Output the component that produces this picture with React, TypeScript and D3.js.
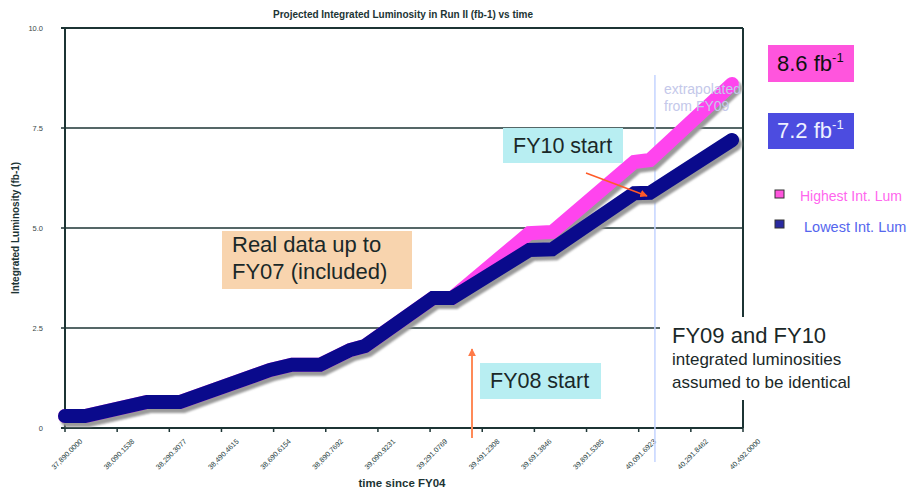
import React from "react";
import * as d3 from "d3";

// ---- data (Excel serial dates vs integrated luminosity, fb-1) ----
const dates = [37890, 37967, 38205, 38331, 38677, 38761, 38869, 38984, 39041, 39302, 39375, 39672, 39760, 40075, 40135, 40450];
const lowestLum = [0.30, 0.30, 0.65, 0.65, 1.45, 1.58, 1.58, 1.95, 2.05, 3.25, 3.25, 4.45, 4.47, 5.87, 5.88, 7.2];
const highestLum = [0.30, 0.30, 0.65, 0.65, 1.45, 1.58, 1.58, 1.95, 2.05, 3.25, 3.25, 4.87, 4.9, 6.65, 6.7, 8.6];

const xTicks = [37890.0, 38090.1538, 38290.3077, 38490.4615, 38690.6154, 38890.7692, 39090.9231, 39291.0769, 39491.2308, 39691.3846, 39891.5385, 40091.6923, 40291.8462, 40492.0];
const yTicks = [0, 2.5, 5, 7.5, 10];
const yTickLabels = ["0", "2.5", "5.0", "7.5", "10.0"];

const seriesNames = ["Highest Int. Lum", "Lowest Int. Lum"];
const totals = ["8.6", "7.2"];

const FY08_DATE = 39452;
const FY10_DATE = 40154;

const FONT = "'Liberation Sans', Arial, Helvetica, sans-serif";

export default function App() {
  const W = 912, H = 491;
  const x = d3.scaleLinear().domain([37890, 40492]).range([65, 743]);
  const y = d3.scaleLinear().domain([0, 10]).range([428, 28]);
  const line = d3.line<number>()
    .x((_, i) => x(dates[i]))
    .y((d) => y(d));
  const lowPath = line(lowestLum) || "";
  const highPath = line(highestLum) || "";
  const fmt = d3.format(",.4f");
  const axisColor = "#1c3434";

  return (
    <svg width={W} height={H} style={{ position: "absolute", left: 0, top: 0, background: "#fff" }} fontFamily={FONT}>
      <defs>
        <marker id="arr" viewBox="0 0 10 10" refX="9" refY="5" markerWidth="5" markerHeight="5" orient="auto-start-reverse">
          <path d="M0,0 L10,5 L0,10 z" fill="#ff5a28" />
        </marker>
        <marker id="arr2" viewBox="0 0 10 10" refX="9" refY="5" markerWidth="4" markerHeight="4" orient="auto-start-reverse">
          <path d="M0,0 L10,5 L0,10 z" fill="#ff7a48" />
        </marker>
        <filter id="blur" x="-5%" y="-5%" width="110%" height="110%">
          <feGaussianBlur stdDeviation="1.2" />
        </filter>
      </defs>

      {/* title */}
      <text x={403} y={18} textAnchor="middle" fontSize={10} fontWeight="bold" fill={axisColor}>
        Projected Integrated Luminosity in Run II (fb-1) vs time
      </text>

      {/* gridlines */}
      {yTicks.map((t, i) => (
        <line key={"g" + i} x1={61} x2={743} y1={y(t)} y2={y(t)} stroke={axisColor} strokeWidth={t === 0 || t === 10 ? 2 : 1.4} />
      ))}
      {/* y labels */}
      {yTicks.map((t, i) => (
        <text key={"yl" + i} x={43} y={y(t)} dy="0.35em" textAnchor="end" fontSize={7.5} fill="#3a4848">
          {yTickLabels[i]}
        </text>
      ))}
      {/* axes */}
      <line x1={65} x2={65} y1={y(10)} y2={y(0)} stroke={axisColor} strokeWidth={2} />
      <line x1={743} x2={743} y1={y(10)} y2={y(0)} stroke={axisColor} strokeWidth={2} />
      {xTicks.map((t, i) => (
        <g key={"xt" + i}>
          <line x1={x(t)} x2={x(t)} y1={y(0)} y2={y(0) + 4} stroke={axisColor} strokeWidth={1.5} />
          <text transform={`translate(${x(t) + 16},${440}) rotate(-45)`} dy="0.35em" textAnchor="end" fontSize={7.2} fill="#2a4444">
            {fmt(t)}
          </text>
        </g>
      ))}
      <text x={402} y={487} textAnchor="middle" fontSize={11.5} fontWeight="bold" fill={axisColor}>time since FY04</text>
      <text transform="translate(19,228) rotate(-90)" textAnchor="middle" fontSize={10} fontWeight="bold" fill={axisColor}>
        Integrated Luminosity (fb-1)
      </text>

      {/* vertical extrapolation line */}
      <line x1={x(FY10_DATE)} x2={x(FY10_DATE)} y1={75} y2={462} stroke="#c4d4ff" strokeWidth={1.5} />

      {/* series: shadows then lines */}
      <g transform="translate(3,4)" filter="url(#blur)">
        <path d={highPath} fill="none" stroke="#9a9a9a" strokeWidth={14} strokeLinecap="round" />
        <path d={lowPath} fill="none" stroke="#9a9a9a" strokeWidth={14} strokeLinecap="round" />
      </g>
      <path d={highPath} fill="none" stroke="#ff44ee" strokeWidth={14} strokeLinecap="round" />
      <path d={lowPath} fill="none" stroke="#0a0a8c" strokeWidth={14} strokeLinecap="round" />

      {/* extrapolated text */}
      <text x={664} y={94} fontSize={14} fill="#c4c8ea">extrapolated</text>
      <text x={664} y={111} fontSize={14} fill="#c4c8ea">from FY09</text>

      {/* Real data box */}
      <rect x={222} y={231} width={190} height={58} fill="#f8d4ae" />
      <text x={232} y={252} fontSize={22} fill="#1a2828">Real data up to</text>
      <text x={232} y={279} fontSize={22} fill="#1a2828">FY07 (included)</text>

      {/* FY10 start */}
      <rect x={503} y={128} width={120} height={35} fill="#b8eef2" />
      <text x={513} y={153} fontSize={21.5} fill="#1a2828">FY10 start</text>
      <line x1={586} y1={173} x2={647} y2={196} stroke="#ff5a28" strokeWidth={1.5} markerEnd="url(#arr)" />

      {/* FY08 start */}
      <line x1={x(FY08_DATE)} x2={x(FY08_DATE)} y1={438} y2={349} stroke="#ff8a58" strokeWidth={2} markerEnd="url(#arr2)" />
      <rect x={480} y={363} width={121} height={36} fill="#b8eef2" />
      <text x={490} y={388} fontSize={21.5} fill="#1a2828">FY08 start</text>

      {/* FY09/FY10 note */}
      <rect x={660} y={317} width={215} height={83} fill="#fff" />
      <text x={672} y={343} fontSize={22} fill="#1a2828">FY09 and FY10</text>
      <text x={672} y={365} fontSize={17} fill="#1a2828">integrated luminosities</text>
      <text x={672} y={388} fontSize={17} fill="#1a2828">assumed to be identical</text>

      {/* totals boxes */}
      <rect x={768} y={45} width={86} height={37} fill="#ff55dd" />
      <text x={777} y={71} fontSize={22} fill="#111">
        {totals[0]} fb<tspan fontSize={13} dy={-9}>-1</tspan>
      </text>
      <rect x={768} y={113} width={86} height={36} fill="#4c4ce0" />
      <text x={777} y={138} fontSize={22} fill="#eef0ff">
        {totals[1]} fb<tspan fontSize={13} dy={-9}>-1</tspan>
      </text>

      {/* legend */}
      <rect x={775} y={190} width={9} height={8} fill="#ff55dd" stroke="#333" strokeWidth={1} />
      <text x={800} y={201} fontSize={14} fill="#ff66ee">{seriesNames[0]}</text>
      <rect x={775} y={220} width={9} height={8} fill="#2a2aa0" stroke="#333" strokeWidth={1} />
      <text x={804} y={232} fontSize={14.5} fill="#5566ee">{seriesNames[1]}</text>
    </svg>
  );
}
